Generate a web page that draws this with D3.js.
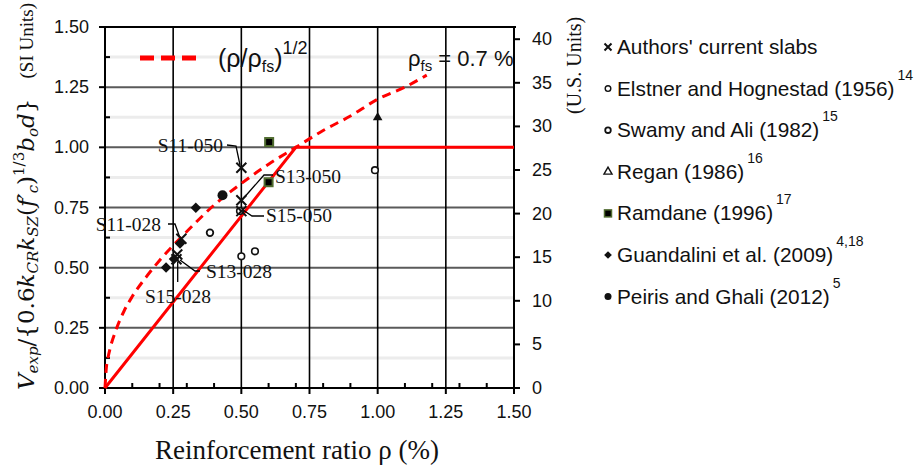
<!DOCTYPE html>
<html>
<head>
<meta charset="utf-8">
<script src="https://cdn.jsdelivr.net/npm/d3@7"></script>
<style>
  body { margin: 0; background: #fff; }
  svg { display: block; }
  .sans { font-family: "Liberation Sans", Arial, sans-serif; }
  .serif { font-family: "Liberation Serif", "Times New Roman", serif; }
  .math { font-family: "DejaVu Serif", serif; }
</style>
</head>
<body>
<svg id="chart" width="915" height="470"></svg>
<script>
// ---- data ----
var xTicks = [0, 0.25, 0.5, 0.75, 1.0, 1.25, 1.5];
var yTicks = [0, 0.25, 0.5, 0.75, 1.0, 1.25, 1.5];
var usTicks = [0, 5, 10, 15, 20, 25, 30, 35, 40];

// sqrt curve
var curveRho = [0, 0.005, 0.01, 0.02, 0.04, 0.07, 0.1, 0.15, 0.2, 0.3, 0.4, 0.5, 0.6, 0.7, 0.8, 0.9, 1.0, 1.1, 1.18];
var curveV   = [0, 0.085, 0.12, 0.17, 0.24, 0.32, 0.38, 0.46, 0.53, 0.65, 0.76, 0.85, 0.93, 1.0, 1.07, 1.13, 1.2, 1.25, 1.3];
// linear capped line
var lineRho = [0, 0.7, 1.5];
var lineV   = [0, 1.0, 1.0];

var authorsRho = [0.28, 0.265, 0.262, 0.5, 0.5, 0.5];
var authorsV   = [0.62, 0.555, 0.535, 0.915, 0.78, 0.735];
var authorsLbl = ["S11-028", "S13-028", "S15-028", "S11-050", "S13-050", "S15-050"];
var elstnerRho = [0.5, 0.55, 0.99, 0.495];
var elstnerV   = [0.547, 0.568, 0.905, 0.735];
var swamyRho = [0.385];
var swamyV   = [0.645];
var reganRho = [1.0];
var reganV   = [1.124];
var ramdaneRho = [0.602, 0.6];
var ramdaneV   = [1.022, 0.855];
var guandRho = [0.224, 0.253, 0.275, 0.333];
var guandV   = [0.501, 0.536, 0.6, 0.749];
var peirisRho = [0.431];
var peirisV   = [0.801];

var legendNames = ["Authors' current slabs", "Elstner and Hognestad (1956)", "Swamy and Ali (1982)",
                   "Regan (1986)", "Ramdane (1996)", "Guandalini et al. (2009)", "Peiris and Ghali (2012)"];
var legendRefs = ["", "14", "15", "16", "17", "4,18", "5"];

var svg = d3.select("#chart");
var x0 = 105, x1 = 514, yTop = 27, yBot = 388;
var x = d3.scaleLinear().domain([0, 1.5]).range([x0, x1]);
var y = d3.scaleLinear().domain([0, 1.5]).range([yBot, yTop]);
var yUS = d3.scaleLinear().domain([0, 41.4]).range([yBot, yTop]);

function zip(a, b) { return a.map(function(v, i) { return [v, b[i]]; }); }

// grid
var g = svg.append("g");
var minorY = d3.range(0.125, 1.5, 0.25);
g.selectAll("line.minorY").data(minorY).enter().append("line")
  .attr("x1", x0).attr("x2", x1).attr("y1", y).attr("y2", y)
  .attr("stroke", "#ececec").attr("stroke-width", 3);
g.selectAll("line.majorY").data(yTicks.slice(1, 6)).enter().append("line")
  .attr("x1", x0).attr("x2", x1).attr("y1", y).attr("y2", y)
  .attr("stroke", "#5a5a5a").attr("stroke-width", 2);
g.selectAll("line.vx").data(xTicks.slice(1, 6)).enter().append("line")
  .attr("x1", x).attr("x2", x).attr("y1", yTop).attr("y2", yBot)
  .attr("stroke", "#000").attr("stroke-width", 1.6);
// top border
svg.append("line").attr("x1", x0 - 2).attr("x2", x1 + 2).attr("y1", yTop).attr("y2", yTop)
  .attr("stroke", "#000").attr("stroke-width", 2);

// axes
var ax = svg.append("g").attr("class", "sans");
ax.append("line").attr("x1", x0).attr("x2", x0).attr("y1", yTop).attr("y2", yBot + 1).attr("stroke", "#000").attr("stroke-width", 2);
ax.append("line").attr("x1", x1).attr("x2", x1).attr("y1", yTop).attr("y2", yBot + 1).attr("stroke", "#000").attr("stroke-width", 2);
ax.append("line").attr("x1", x0 - 1).attr("x2", x1 + 6).attr("y1", yBot).attr("y2", yBot).attr("stroke", "#000").attr("stroke-width", 2);

ax.selectAll("line.lt").data(yTicks).enter().append("line")
  .attr("x1", x0 - 6).attr("x2", x0).attr("y1", y).attr("y2", y).attr("stroke", "#000").attr("stroke-width", 2);
ax.selectAll("line.lm").data(minorY).enter().append("line")
  .attr("x1", x0).attr("x2", x0 + 5).attr("y1", y).attr("y2", y).attr("stroke", "#000").attr("stroke-width", 2);
ax.selectAll("text.ly").data(yTicks).enter().append("text")
  .attr("x", 89).attr("y", function(d) { return y(d) + 6; })
  .attr("text-anchor", "end").attr("font-size", 18).attr("fill", "#111")
  .text(function(d) { return d3.format(".2f")(d); });

ax.selectAll("line.bt").data(xTicks).enter().append("line")
  .attr("x1", x).attr("x2", x).attr("y1", yBot).attr("y2", yBot + 6).attr("stroke", "#000").attr("stroke-width", 2);
var minorX = d3.range(1, 15).map(function(i) { return i / 10; }).filter(function(v) { return Math.abs(v * 4 - Math.round(v * 4)) > 0.01; });
ax.selectAll("line.bm").data(minorX).enter().append("line")
  .attr("x1", x).attr("x2", x).attr("y1", yBot - 5).attr("y2", yBot).attr("stroke", "#000").attr("stroke-width", 2);
ax.selectAll("text.bx").data(xTicks).enter().append("text")
  .attr("x", x).attr("y", 418).attr("text-anchor", "middle").attr("font-size", 18).attr("fill", "#111")
  .text(function(d) { return d3.format(".2f")(d); });

ax.selectAll("line.rt").data(usTicks).enter().append("line")
  .attr("x1", x1).attr("x2", x1 + 6).attr("y1", yUS).attr("y2", yUS).attr("stroke", "#000").attr("stroke-width", 2);
ax.selectAll("text.ry").data(usTicks).enter().append("text")
  .attr("x", 532).attr("y", function(d) { return yUS(d) + 6; })
  .attr("font-size", 18).attr("fill", "#111").text(function(d) { return d; });

// axis titles
svg.append("text").attr("class", "serif").attr("x", 297).attr("y", 459)
  .attr("text-anchor", "middle").attr("font-size", 27).attr("fill", "#111")
  .text("Reinforcement ratio \u03c1 (%)");

var lt = svg.append("text").attr("class", "math").attr("transform", "translate(34,390) rotate(-90)")
  .attr("font-size", 23).attr("fill", "#111");
lt.append("tspan").attr("font-style", "italic").text("V");
lt.append("tspan").attr("font-style", "italic").attr("font-size", 15).attr("dy", 4).text("exp");
lt.append("tspan").attr("dy", -4).text("/{0.6");
lt.append("tspan").attr("font-style", "italic").text("k");
lt.append("tspan").attr("font-style", "italic").attr("font-size", 15).attr("dy", 4).text("CR");
lt.append("tspan").attr("font-style", "italic").attr("dy", -4).text("k");
lt.append("tspan").attr("font-style", "italic").attr("font-size", 15).attr("dy", 4).text("SZ");
lt.append("tspan").attr("dy", -4).text("(");
lt.append("tspan").attr("font-style", "italic").text("f\u2032");
lt.append("tspan").attr("font-style", "italic").attr("font-size", 15).attr("dy", 4).text("c");
lt.append("tspan").attr("dy", -4).text(")");
lt.append("tspan").attr("font-size", 15).attr("dy", -10).text("1/3");
lt.append("tspan").attr("font-style", "italic").attr("dy", 10).text("b");
lt.append("tspan").attr("font-style", "italic").attr("font-size", 15).attr("dy", 4).text("o");
lt.append("tspan").attr("font-style", "italic").attr("dy", -4).text("d");
lt.append("tspan").text("}");

svg.append("text").attr("class", "serif").attr("transform", "translate(33,3) rotate(-90)")
  .attr("text-anchor", "end").attr("font-size", 19).attr("fill", "#111").text("(SI Units)");

svg.append("text").attr("class", "serif").attr("transform", "translate(581,114) rotate(-90)")
  .attr("font-size", 20).attr("fill", "#111").text("(U.S. Units)");

// red lines
var line = d3.line().x(function(d) { return x(d[0]); }).y(function(d) { return y(d[1]); });
svg.append("path").datum(zip(lineRho, lineV)).attr("d", line)
  .attr("fill", "none").attr("stroke", "#ff0000").attr("stroke-width", 3);
svg.append("path").datum(zip(curveRho, curveV)).attr("d", d3.line().curve(d3.curveMonotoneX).x(function(d) { return x(d[0]); }).y(function(d) { return y(d[1]); }))
  .attr("fill", "none").attr("stroke", "#ff0000").attr("stroke-width", 3).attr("stroke-dasharray", "9,6");

// top-left legend for the curve
svg.append("line").attr("x1", 140).attr("x2", 202).attr("y1", 58).attr("y2", 58)
  .attr("stroke", "#ff0000").attr("stroke-width", 5).attr("stroke-dasharray", "14,7");
var ct = svg.append("text").attr("class", "sans").attr("x", 218).attr("y", 67).attr("font-size", 25).attr("fill", "#111");
ct.append("tspan").text("(\u03c1/\u03c1");
ct.append("tspan").attr("font-size", 16).attr("dy", 5).text("fs");
ct.append("tspan").attr("dy", -5).text(")");
ct.append("tspan").attr("font-size", 18).attr("dy", -13).text("1/2");
var pt = svg.append("text").attr("class", "sans").attr("x", 408).attr("y", 66).attr("font-size", 22).attr("fill", "#111");
pt.append("tspan").text("\u03c1");
pt.append("tspan").attr("font-size", 15).attr("dy", 5).text("fs");
pt.append("tspan").attr("dy", -5).text(" = 0.7 %");

// annotation leaders and labels
var leaders = [
  [[168, 224], [175, 224], [180, 238]],
  [[200, 271], [195, 271], [180, 260]],
  [[177.7, 262], [177.7, 282]],
  [[227, 145], [236, 146], [240, 165]],
  [[273, 175], [264, 175], [242, 200]],
  [[264, 216], [252, 216], [243, 210]]
];
svg.selectAll("path.leader").data(leaders).enter().append("path")
  .attr("d", d3.line()).attr("fill", "none").attr("stroke", "#000").attr("stroke-width", 1.3);
var lblPos = [[161, 225, "end"], [206, 272, "start"], [145, 297, "start"], [223, 146, "end"], [275, 177, "start"], [266, 216, "start"]];
svg.selectAll("text.ann").data(authorsLbl).enter().append("text").attr("class", "serif")
  .attr("x", function(d, i) { return lblPos[i][0]; }).attr("y", function(d, i) { return lblPos[i][1] + 6; })
  .attr("text-anchor", function(d, i) { return lblPos[i][2]; })
  .attr("font-size", 19.5).attr("fill", "#111").text(function(d) { return d; });

// markers
function drawX(sel, cx, cy, r) {
  sel.append("path").attr("d", "M" + (cx - r) + "," + (cy - r) + "L" + (cx + r) + "," + (cy + r) + "M" + (cx - r) + "," + (cy + r) + "L" + (cx + r) + "," + (cy - r))
    .attr("stroke", "#111").attr("stroke-width", 2).attr("fill", "none");
}
var m = svg.append("g");
m.selectAll("circle.el").data(zip(elstnerRho, elstnerV)).enter().append("circle")
  .attr("cx", function(d) { return x(d[0]); }).attr("cy", function(d) { return y(d[1]); }).attr("r", 3.3)
  .attr("fill", "#fff").attr("stroke", "#111").attr("stroke-width", 1.6);
m.selectAll("circle.sw").data(zip(swamyRho, swamyV)).enter().append("circle")
  .attr("cx", function(d) { return x(d[0]); }).attr("cy", function(d) { return y(d[1]); }).attr("r", 3.3)
  .attr("fill", "#fff").attr("stroke", "#111").attr("stroke-width", 1.8);
m.selectAll("path.rg").data(zip(reganRho, reganV)).enter().append("path")
  .attr("d", d3.symbol().type(d3.symbolTriangle).size(40))
  .attr("transform", function(d) { return "translate(" + x(d[0]) + "," + y(d[1]) + ")"; }).attr("fill", "#111");
m.selectAll("rect.rd").data(zip(ramdaneRho, ramdaneV)).enter().append("rect")
  .attr("x", function(d) { return x(d[0]) - 4; }).attr("y", function(d) { return y(d[1]) - 4; })
  .attr("width", 8).attr("height", 8).attr("fill", "#000").attr("stroke", "#4f6b2f").attr("stroke-width", 2);
m.selectAll("path.gd").data(zip(guandRho, guandV)).enter().append("path")
  .attr("d", d3.symbol().type(d3.symbolSquare).size(55))
  .attr("transform", function(d) { return "translate(" + x(d[0]) + "," + y(d[1]) + ") rotate(45)"; }).attr("fill", "#111");
m.selectAll("circle.pg").data(zip(peirisRho, peirisV)).enter().append("circle")
  .attr("cx", function(d) { return x(d[0]); }).attr("cy", function(d) { return y(d[1]); }).attr("r", 5).attr("fill", "#111");
zip(authorsRho, authorsV).forEach(function(d) { drawX(m, x(d[0]), y(d[1]), 5); });

// right-hand legend
var lg = svg.append("g").attr("class", "sans");
var rowY = legendNames.map(function(d, i) { return 47 + i * 41.6; });
legendNames.forEach(function(name, i) {
  var cy = rowY[i], cx = 608;
  if (i === 0) drawX(lg, cx, cy, 3.5);
  if (i === 1) lg.append("circle").attr("cx", cx).attr("cy", cy).attr("r", 2.8).attr("fill", "#fff").attr("stroke", "#111").attr("stroke-width", 1.4);
  if (i === 2) lg.append("circle").attr("cx", cx).attr("cy", cy).attr("r", 2.8).attr("fill", "#fff").attr("stroke", "#111").attr("stroke-width", 1.8);
  if (i === 3) lg.append("path").attr("d", d3.symbol().type(d3.symbolTriangle).size(28)).attr("transform", "translate(" + cx + "," + cy + ")").attr("fill", "none").attr("stroke", "#111").attr("stroke-width", 1.4);
  if (i === 4) lg.append("rect").attr("x", cx - 3.5).attr("y", cy - 3.5).attr("width", 7).attr("height", 7).attr("fill", "#000").attr("stroke", "#4f6b2f").attr("stroke-width", 1.5);
  if (i === 5) lg.append("path").attr("d", d3.symbol().type(d3.symbolSquare).size(30)).attr("transform", "translate(" + cx + "," + cy + ") rotate(45)").attr("fill", "#111");
  if (i === 6) lg.append("circle").attr("cx", cx).attr("cy", cy).attr("r", 3.5).attr("fill", "#111");
  var t = lg.append("text").attr("x", 617).attr("y", cy + 7).attr("font-size", 20.8).attr("fill", "#111");
  t.append("tspan").text(name);
  if (legendRefs[i]) t.append("tspan").attr("font-size", 14).attr("dx", 3).attr("dy", -16).text(legendRefs[i]);
});
</script>
</body>
</html>
